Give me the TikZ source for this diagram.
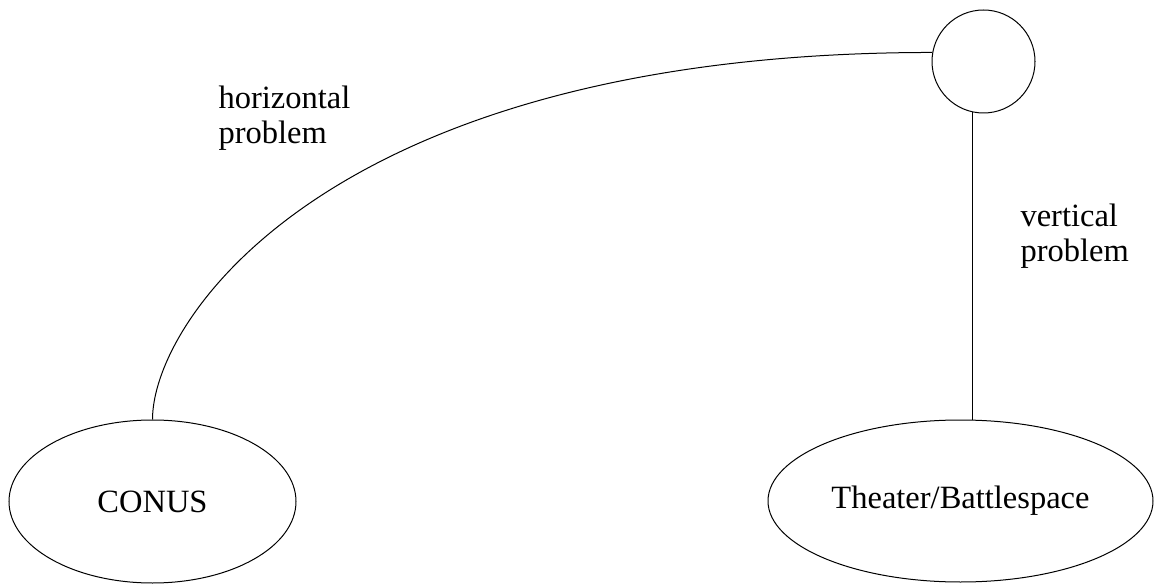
\documentclass[tikz,border=0pt]{standalone}
\usepackage{fontspec}
\setmainfont{Liberation Serif}
\usetikzlibrary{shapes.geometric}
\begin{document}
\begin{tikzpicture}[x=1pt,y=-1pt, line width=1pt,
  every node/.style={font=\fontsize{32.5}{35}\selectfont},
  oval/.style={draw, ellipse, inner sep=0pt},
  hub/.style={draw, circle, inner sep=0pt, minimum size=103pt},
  lbl/.style={align=left, inner sep=0pt, anchor=base west},
  link/.style={draw, line width=1pt}]
\useasboundingbox (0,0) rectangle (1154,585);
\node[oval, minimum width=287pt, minimum height=163pt] (conus) at (152.5,501.5) {CONUS};
\node[oval, minimum width=385pt, minimum height=162pt] (th) at (960.5,501) {Theater/Battlespace};
\node[hub] (hubc) at (983.5,61.5) {};
\path[link] (conus.north) .. controls +(0,-100) and +(-602,0) .. (hubc.170);
\path[link] (hubc.258) -- (hubc.258 |- th.north);
\node[lbl] (hl) at (218,144) {horizontal\\problem};
\node[lbl] (vl) at (1020,262) {vertical\\problem};
\end{tikzpicture}
\end{document}
